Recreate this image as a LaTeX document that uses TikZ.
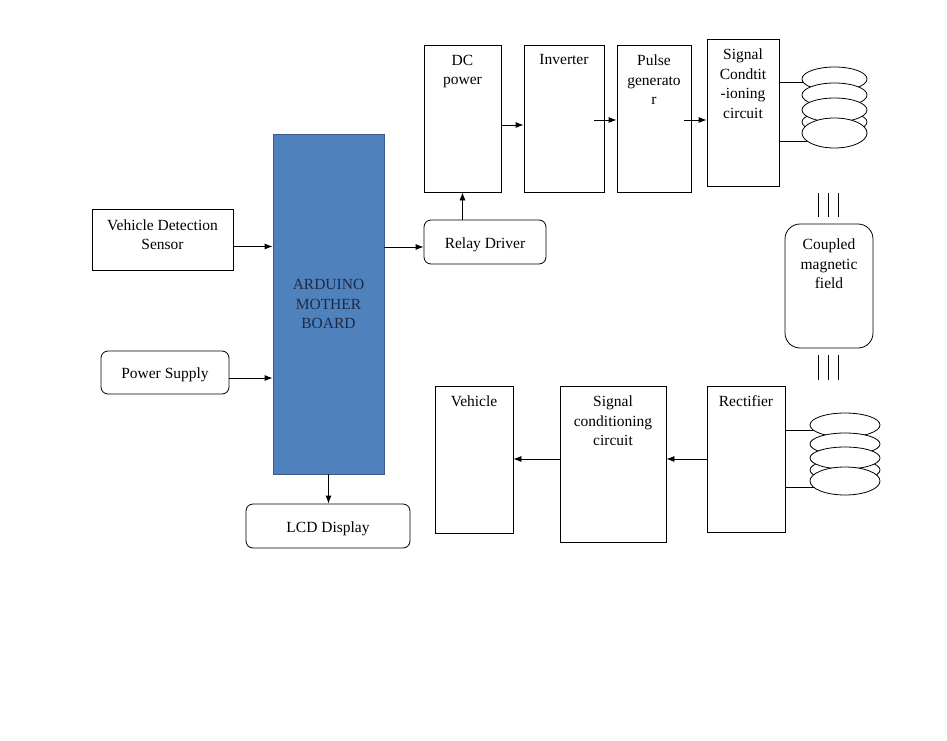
\documentclass[tikz,border=0pt]{standalone}
\usepackage{fontspec}
\setmainfont{Liberation Serif}
\usetikzlibrary{arrows.meta}
\definecolor{ardfill}{HTML}{4F81BD}
\definecolor{ardline}{HTML}{385D8A}
\definecolor{ardtext}{HTML}{1C2A45}
\begin{document}
\begin{tikzpicture}[x=1pt,y=-1pt,
        font=\fontsize{15.5}{19.5}\selectfont,
        box/.style={draw,line width=0.8pt,inner sep=0pt,align=center},
        rbox/.style={box,rounded corners=7pt,text height=16pt,text depth=4pt},
        toptext/.style={anchor=north,align=center,inner sep=0pt,yshift=-10pt},
        arr/.style={-{Latex[length=8pt,width=6pt]},line width=0.8pt},
        coil/.style={draw,fill=white,line width=0.8pt}]
    \useasboundingbox (0,0) rectangle (947,741);
    %% controller side
    \node[box,minimum width=141,minimum height=61,text depth=10pt] (sensor) at (162.5,239.5) {Vehicle Detection\\Sensor};
    \node[rbox,minimum width=128,minimum height=43] (supply) at (165,372.5) {Power Supply};
    \node[box,draw=ardline,fill=ardfill,text=ardtext,minimum width=111,minimum height=340] (arduino) at (328.5,304) {ARDUINO\\MOTHER\\BOARD};
    \node[rbox,minimum width=164,minimum height=44] (lcd) at (328,526) {LCD Display};
    \node[rbox,minimum width=122,minimum height=44] (relay) at (485,242) {Relay Driver};
    \draw[arr] ([yshift=-7pt]sensor.east) -- ([yshift=-7pt]sensor.east -| arduino.west);
    \draw[arr] ([yshift=-5.5pt]supply.east) -- ([yshift=-5.5pt]supply.east -| arduino.west);
    \draw[arr] ([yshift=-5pt]relay.west -| arduino.east) -- ([yshift=-5pt]relay.west);
    \draw[arr] (arduino.south) -- (arduino.south |- lcd.north);
    %% transmitter chain
    \node[box,minimum width=77,minimum height=147] (dc) at (462.5,118.5) {};
    \node[toptext] (dc-t) at (dc.north) {DC\\power};
    \node[box,minimum width=80,minimum height=147] (inverter) at (564,118.5) {};
    \node[toptext] (inverter-t) at (inverter.north) {Inverter};
    \node[box,minimum width=74,minimum height=147] (pulse) at (654,118.5) {};
    \node[toptext] (pulse-t) at (pulse.north) {Pulse\\generato\\r};
    \node[box,minimum width=72,minimum height=147] (txcond) at (743,112.5) {};
    \node[toptext] (txcond-t) at (txcond.north) {Signal\\Condtit\\-ioning\\circuit};
    \draw[arr] (relay.north -| dc.south) -- (dc.south);
    \draw[arr] ([yshift=-6.5pt]dc.east) -- ([yshift=-6.5pt]dc.east -| inverter.west);
    \draw[arr] ([xshift=-10pt,yshift=-1.5pt]inverter.east) -- ([yshift=-1.5pt]inverter.east -| pulse.west);
    \draw[arr] ([xshift=-7pt,yshift=-1.5pt]pulse.east) -- ([yshift=-1.5pt]pulse.east -| txcond.west);
    %% transmitter coil
    \coordinate (tx-a) at (812,82);
    \coordinate (tx-b) at (812,141);
    \draw[line width=0.8pt] (txcond.east |- tx-a) -- (tx-a);
    \draw[line width=0.8pt] (txcond.east |- tx-b) -- (tx-b);
    \foreach \cy/\ry in {79/12,95/12,122/11,110/12,133/15}
        \draw[coil] (834.5,\cy) ellipse (32.5 and \ry);
    %% coupling
    \foreach \lx in {818,828,838} {
        \draw[line width=0.8pt] (\lx,193) -- (\lx,217);
        \draw[line width=0.8pt] (\lx,355) -- (\lx,380);
    }
    \node[box,rounded corners=15pt,minimum width=88,minimum height=124] (field) at (829,286) {};
    \node[toptext,yshift=-5pt] (field-t) at (field.north) {Coupled\\magnetic\\field};
    %% receiver chain
    \node[box,minimum width=78,minimum height=146] (rectifier) at (746,459) {};
    \node[toptext] (rectifier-t) at (rectifier.north) {Rectifier};
    \node[box,minimum width=106,minimum height=156] (rxcond) at (613,464) {};
    \node[toptext] (rxcond-t) at (rxcond.north) {Signal\\conditioning\\circuit};
    \node[box,minimum width=78,minimum height=147] (vehicle) at (474,459.5) {};
    \node[toptext] (vehicle-t) at (vehicle.north) {Vehicle};
    \draw[arr] (rectifier.west) -- (rectifier.west -| rxcond.east);
    \draw[arr] (rxcond.west |- rectifier.west) -- (rectifier.west -| vehicle.east);
    %% receiver coil
    \coordinate (rx-a) at (822,430);
    \coordinate (rx-b) at (822,487);
    \draw[line width=0.8pt] (rectifier.east |- rx-a) -- (rx-a);
    \draw[line width=0.8pt] (rectifier.east |- rx-b) -- (rx-b);
    \foreach \cy/\ry in {425/12,444/11,470/11,458/11,481/14}
        \draw[coil] (845,\cy) ellipse (35 and \ry);
\end{tikzpicture}
\end{document}
